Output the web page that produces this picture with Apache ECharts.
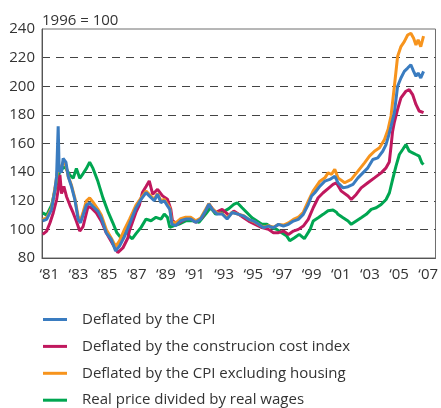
<!DOCTYPE html>
<html>
<head>
<meta charset="utf-8">
<script src="https://cdn.jsdelivr.net/npm/echarts@6/dist/echarts.min.js"></script>
<style>
    html, body { margin: 0; padding: 0; background: #fff; }
    #house { width: 441px; height: 408px; }
</style>
</head>
<body>
<div id="house"></div>
<script>
// x 轴的年份标签
var years = ['81', '82', '83', '84', '85', '86', '87', '88', '89', '90', '91', '92', '93', '94',
    '95', '96', '97', '98', '99', '00', '01', '02', '03', '04', '05', '06', '07'];
var names = ['Deflated by the CPI', 'Deflated by the construcion cost index',
    'Deflated by the CPI excluding housing', 'Real price divided by real wages'];

// [年份, 指数] 1996 = 100
var cpi = [
    [1981.05, 106], [1981.32, 107], [1981.66, 114], [1981.89, 128], [1982.0, 137], [1982.11, 172],
    [1982.18, 141], [1982.34, 140], [1982.45, 149.5], [1982.64, 147], [1982.8, 137], [1983.02, 130],
    [1983.25, 121], [1983.48, 107], [1983.64, 104.6], [1983.82, 110], [1984.05, 117], [1984.27, 118.4],
    [1984.5, 116], [1984.84, 112.6], [1985.07, 108], [1985.41, 97.6], [1985.75, 93], [1986.05, 85],
    [1986.32, 88.4], [1986.66, 95], [1987.0, 103.5], [1987.23, 109.5], [1987.45, 115], [1987.8, 121],
    [1988.14, 125.7], [1988.36, 123.4], [1988.7, 120], [1988.93, 124.5], [1989.16, 118.7], [1989.39, 120],
    [1989.61, 116.4], [1989.77, 114], [1989.91, 103.7], [1990.18, 102.6], [1990.52, 106], [1990.86, 107.2],
    [1991.2, 107.2], [1991.55, 105], [1991.89, 107.2], [1992.23, 113], [1992.45, 117.6], [1992.68, 114],
    [1993.02, 110.7], [1993.36, 110.7], [1993.7, 107.2], [1994.05, 111.8], [1994.5, 110.5], [1994.84, 109.3],
    [1995.18, 107], [1995.52, 105.8], [1995.86, 103.5], [1996.2, 101.2], [1996.54, 102.3], [1996.88, 101.2],
    [1997.23, 103.5], [1997.57, 102.3], [1997.91, 103.5], [1998.25, 105.8], [1998.59, 107], [1998.93, 110.5],
    [1999.27, 117.4], [1999.5, 123.3], [1999.72, 125.6], [2000.07, 130.2], [2000.41, 133.7], [2000.75, 134.9],
    [2000.86, 136], [2001.09, 137.2], [2001.31, 132.6], [2001.66, 129], [2002.0, 129.8], [2002.34, 131.4],
    [2002.68, 136], [2003.02, 139.5], [2003.36, 143], [2003.7, 148.8], [2004.04, 150], [2004.38, 154.6],
    [2004.6, 159], [2004.8, 166], [2004.95, 172], [2005.18, 181.5], [2005.4, 200], [2005.63, 205.8],
    [2005.86, 210.4], [2006.09, 212.7], [2006.31, 215], [2006.5, 210.4], [2006.66, 207], [2006.81, 209.2],
    [2006.99, 205.8], [2007.18, 210.4]
];
var construction = [
    [1981.05, 96.5], [1981.32, 98.8], [1981.55, 104.6], [1981.77, 111.5], [1982.0, 120.7], [1982.11, 127.6],
    [1982.23, 138], [1982.34, 125], [1982.5, 130], [1982.68, 123], [1982.91, 117], [1983.14, 111.5],
    [1983.36, 105.7], [1983.59, 98.8], [1983.82, 102], [1984.16, 116], [1984.39, 115], [1984.73, 111.5],
    [1985.07, 105.7], [1985.41, 97.6], [1985.86, 89.6], [1986.2, 83.8], [1986.55, 87], [1986.89, 94],
    [1987.0, 99], [1987.45, 112], [1987.68, 117], [1987.9, 126], [1988.14, 130], [1988.36, 133.8],
    [1988.6, 124.5], [1988.93, 128], [1989.27, 123.4], [1989.61, 121], [1989.84, 114], [1989.95, 106],
    [1990.3, 103.7], [1990.64, 106], [1991.1, 108.4], [1991.55, 105], [1992.0, 108.4], [1992.45, 117.6],
    [1992.9, 111.8], [1993.36, 114], [1993.82, 110], [1994.16, 112.8], [1994.5, 110.5], [1994.84, 108.1],
    [1995.18, 105.8], [1995.63, 103.5], [1996.09, 101.2], [1996.54, 100], [1996.88, 97.7], [1997.23, 97.7],
    [1997.57, 98.8], [1997.91, 96.5], [1998.25, 98.8], [1998.59, 100], [1998.93, 102.3], [1999.27, 107],
    [1999.61, 115.1], [1999.95, 122.1], [2000.29, 125.6], [2000.63, 128.5], [2000.97, 131.4], [2001.2, 132.6],
    [2001.54, 126.7], [2002.0, 123.3], [2002.22, 120.9], [2002.56, 124.4], [2002.9, 129], [2003.36, 132.6],
    [2003.81, 136], [2004.27, 139.5], [2004.61, 143], [2004.83, 147], [2004.95, 158], [2005.05, 168],
    [2005.18, 175], [2005.4, 183.8], [2005.63, 191.9], [2005.97, 196.5], [2006.2, 197.7], [2006.43, 194.2],
    [2006.66, 187.3], [2006.88, 182.7], [2007.18, 181.5]
];
var cpiExHousing = [
    [1981.05, 107], [1981.32, 108], [1981.66, 115], [1981.89, 129], [1982.0, 136], [1982.11, 145],
    [1982.18, 140], [1982.45, 147], [1982.64, 145], [1982.8, 137], [1983.02, 131], [1983.25, 122],
    [1983.48, 109], [1983.64, 106], [1983.82, 112], [1984.05, 120], [1984.27, 122], [1984.5, 119],
    [1984.84, 114], [1985.07, 110], [1985.41, 100], [1985.75, 94], [1986.05, 88], [1986.32, 92],
    [1986.66, 100], [1987.0, 107], [1987.23, 112], [1987.45, 117], [1987.8, 122], [1988.14, 126.8],
    [1988.36, 124.5], [1988.7, 121], [1988.93, 125], [1989.16, 120], [1989.39, 121], [1989.61, 117.5],
    [1989.77, 115], [1989.91, 105], [1990.18, 104.5], [1990.52, 107.5], [1990.86, 108.5], [1991.2, 108.5],
    [1991.55, 106], [1991.89, 108], [1992.23, 114], [1992.45, 118], [1992.68, 114.5], [1993.02, 111.5],
    [1993.36, 111], [1993.7, 108], [1994.05, 112], [1994.5, 110.5], [1994.84, 109.5], [1995.18, 107],
    [1995.52, 105.5], [1995.86, 103.5], [1996.2, 101.5], [1996.54, 102.5], [1996.88, 101.5], [1997.23, 103.5],
    [1997.57, 103], [1997.91, 104.5], [1998.25, 107], [1998.59, 108.5], [1998.93, 112], [1999.27, 119.8],
    [1999.6, 126.7], [2000.07, 133.7], [2000.41, 136], [2000.63, 139.5], [2000.87, 138.5], [2001.09, 141.9],
    [2001.31, 136], [2001.77, 132.6], [2002.22, 134.9], [2002.68, 140.7], [2003.13, 146.5], [2003.47, 151.2],
    [2003.81, 154.6], [2004.16, 157], [2004.5, 162.8], [2004.75, 170], [2004.95, 179.2], [2005.18, 200],
    [2005.4, 220.8], [2005.63, 227.7], [2005.86, 231.2], [2006.09, 235.8], [2006.31, 237], [2006.5, 233.5],
    [2006.66, 228.9], [2006.81, 232.4], [2006.99, 227.7], [2007.18, 235]
];
var realWages = [
    [1981.05, 111.5], [1981.32, 110], [1981.66, 117], [1982.0, 132], [1982.23, 141], [1982.57, 143.8],
    [1982.91, 138], [1983.14, 135.7], [1983.36, 142.6], [1983.59, 135.7], [1983.82, 139], [1984.05, 142.6],
    [1984.27, 147], [1984.5, 142.6], [1984.84, 133.4], [1985.18, 122], [1985.52, 112.6], [1985.86, 104.6],
    [1986.14, 97.6], [1986.43, 94], [1986.77, 99], [1987.0, 95], [1987.2, 93.5], [1987.45, 97],
    [1987.8, 101.4], [1988.14, 107.2], [1988.48, 106], [1988.82, 108.4], [1989.16, 107.2], [1989.39, 110.7],
    [1989.61, 108.4], [1989.77, 101.4], [1990.07, 102.6], [1990.41, 103.7], [1990.86, 106], [1991.32, 106],
    [1991.77, 105], [1992.23, 110.7], [1992.57, 115.3], [1992.91, 110.7], [1993.36, 111.8], [1993.82, 114.5],
    [1994.16, 117.4], [1994.4, 118.6], [1994.73, 115.1], [1995.07, 111.6], [1995.41, 108.1], [1995.75, 105.8],
    [1996.09, 103.5], [1996.43, 103.5], [1996.77, 101.2], [1997.11, 100], [1997.45, 97.7], [1997.8, 95.3],
    [1998.0, 92], [1998.3, 94], [1998.65, 96.5], [1999.0, 93.5], [1999.4, 100], [1999.61, 105.8],
    [1999.95, 108.1], [2000.29, 110.5], [2000.63, 113], [2000.97, 113.5], [2001.2, 112], [2001.31, 110.5],
    [2001.66, 108.1], [2002.0, 105.8], [2002.22, 103.5], [2002.56, 105.8], [2002.9, 108.1], [2003.25, 110.5],
    [2003.59, 114], [2003.93, 115.1], [2004.27, 117.4], [2004.61, 120.9], [2004.84, 125.6], [2005.06, 134.9],
    [2005.29, 144.2], [2005.52, 152.3], [2005.75, 155.8], [2005.97, 159.3], [2006.2, 154.6], [2006.43, 153.5],
    [2006.66, 152.3], [2006.88, 151.2], [2007.06, 146.5], [2007.18, 145.3]
];

function houseChart() {
    var dom = document.getElementById("house");
    var myChart = echarts.init(dom);
    var font = "'Open Sans', sans-serif";
    function lineSeries(name, data, color) {
        return {
            name: name,
            type: 'line',
            xAxisIndex: 1,
            yAxisIndex: 0,
            data: data,
            showSymbol: false,
            symbol: 'none',
            lineStyle: {width: 3, color: color},
            itemStyle: {color: color},
            emphasis: {disabled: true}
        };
    }
    // 每个图例单独一行，避免换列
    var legends = names.map(function (n, i) {
        return {
            orient: 'vertical',
            left: 43,
            top: 312 + i * 26.9,
            padding: 0,
            icon: 'rect',
            itemWidth: 24,
            itemHeight: 3,
            data: [n],
            textStyle: {fontFamily: font, fontSize: 15, lineHeight: 14, color: '#333', padding: [0, 0, 0, 10]}
        };
    });
    var option = {
        animation: false,
        title: {
            text: '1996 = 100',
            left: 37,
            top: 8,
            textStyle: {fontFamily: font, fontSize: 15, fontWeight: 'normal', color: '#333'}
        },
        legend: legends,
        grid: {
            left: 42, right: 3, top: 29, bottom: 150,
            show: true, borderColor: '#6e6e6e', borderWidth: 1
        },
        xAxis: [
            { // 只画刻度和标签
                type: 'category',
                data: years,
                boundaryGap: true,
                axisLine: {lineStyle: {color: '#555'}},
                axisTick: {interval: 0, length: 5, lineStyle: {color: '#555'}},
                axisLabel: {
                    interval: 1, margin: 9,
                    fontFamily: font, fontSize: 15, color: '#333',
                    formatter: function (v) { return '\u2018' + v; }
                },
                splitLine: {show: false}
            },
            { // 数据用的数值轴
                type: 'value',
                min: 1981, max: 2008,
                show: false
            }
        ],
        yAxis: {
            type: 'value',
            min: 80, max: 240, interval: 20,
            axisLine: {show: true, lineStyle: {color: '#555'}},
            axisTick: {show: false},
            axisLabel: {margin: 7, fontFamily: font, fontSize: 15, color: '#333'},
            splitLine: {
                show: true, showMinLine: false, showMaxLine: false,
                lineStyle: {color: '#444', type: [8, 6], width: 1}
            }
        },
        series: [
            lineSeries(names[3], realWages, '#00a651'),
            lineSeries(names[1], construction, '#c0185e'),
            lineSeries(names[2], cpiExHousing, '#f7941d'),
            lineSeries(names[0], cpi, '#3a7cc0')
        ]
    };
    myChart.setOption(option, true);
    window.onresize = myChart.resize;
}
houseChart();
</script>
</body>
</html>
